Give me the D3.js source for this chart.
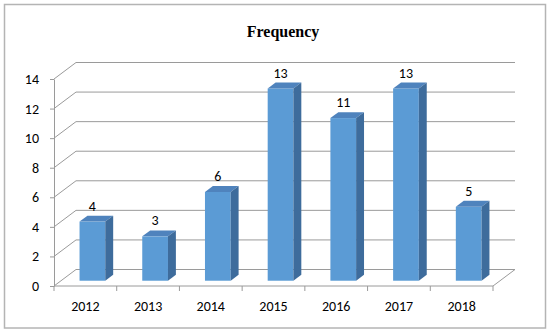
<!DOCTYPE html>
<html>
<head>
<meta charset="utf-8">
<script src="https://cdn.jsdelivr.net/npm/d3@7"></script>
<style>
  body { margin: 0; background: #fff; }
  text { font-family: Carlito, Lato, sans-serif; }
</style>
</head>
<body>
<div id="chart"></div>
<script>
// chart data
var years = ["2012", "2013", "2014", "2015", "2016", "2017", "2018"];
var frequency = [4, 3, 6, 13, 11, 13, 5];
var yTicks = [0, 2, 4, 6, 8, 10, 12, 14];

var W = 550, H = 333;
// 3d depth offset of the plot box
var DX = 22, DY = -16.5;
// bar depth position as fractions of the box depth
var fa = 0.32, fb = 0.68;
var fontSize = "14px";

var svg = d3.select("#chart").append("svg")
    .attr("width", W)
    .attr("height", H);

// outer frame
svg.append("rect")
    .attr("x", 4.5).attr("y", 4.5)
    .attr("width", 541).attr("height", 323.5)
    .style("fill", "#fff")
    .style("stroke", "#b4b4b4")
    .style("stroke-width", 1.5);

// title
svg.append("text")
    .attr("x", 283).attr("y", 37)
    .attr("text-anchor", "middle")
    .style("font-family", "'Liberation Serif', 'DejaVu Serif', serif")
    .style("font-weight", "bold")
    .style("font-size", "16px")
    .text("Frequency");

// scales
var x = d3.scaleBand()
    .domain(years)
    .range([54, 493])
    .paddingInner(0.59)
    .paddingOuter(0.295);
var xEdge = d3.scaleBand()
    .domain(years)
    .range([54, 493]);
var y = d3.scaleLinear()
    .domain([0, 14])
    .range([286, 79]);

var x0 = xEdge.range()[0], x1 = xEdge.range()[1];
var gridColor = "#9a9a9a";

// left wall diagonals and back wall gridlines
var grid = svg.append("g");
yTicks.forEach(function(v) {
  grid.append("path")
      .attr("d", "M" + x0 + "," + y(v) + "L" + (x0 + DX) + "," + (y(v) + DY) +
                 "L" + (x1 + DX) + "," + (y(v) + DY))
      .style("fill", "none")
      .style("stroke", gridColor)
      .style("stroke-width", 1);
});
// floor right edge
grid.append("line")
    .attr("x1", x1).attr("y1", y(0))
    .attr("x2", x1 + DX).attr("y2", y(0) + DY)
    .style("stroke", gridColor);

// bars
var bars = svg.selectAll(".bar")
    .data(frequency)
    .enter().append("g")
    .attr("class", "bar");

function fx(d, i) { return x(years[i]) + fa * DX; }
var bw = x.bandwidth();
var ddx = (fb - fa) * DX, ddy = (fb - fa) * DY;

bars.append("rect")
    .attr("x", fx)
    .attr("y", function(d) { return y(d) + fa * DY; })
    .attr("width", bw)
    .attr("height", function(d) { return y(0) - y(d); })
    .style("fill", "#5b9bd5");

bars.append("path")
    .attr("d", function(d, i) {
      var l = fx(d, i), t = y(d) + fa * DY;
      return "M" + l + "," + t + "L" + (l + bw) + "," + t +
             "L" + (l + bw + ddx) + "," + (t + ddy) + "L" + (l + ddx) + "," + (t + ddy) + "Z";
    })
    .style("fill", "#4f83bd");

bars.append("path")
    .attr("d", function(d, i) {
      var r = fx(d, i) + bw, t = y(d) + fa * DY, b = y(0) + fa * DY;
      return "M" + r + "," + t + "L" + r + "," + b +
             "L" + (r + ddx) + "," + (b + ddy) + "L" + (r + ddx) + "," + (t + ddy) + "Z";
    })
    .style("fill", "#3e6c9c");

// value labels
bars.append("text")
    .attr("x", function(d, i) { return fx(d, i) + bw / 2; })
    .attr("y", function(d) { return y(d) + fb * DY - 5; })
    .attr("text-anchor", "middle")
    .style("font-size", fontSize)
    .style("fill", "#000")
    .text(function(d) { return d; });

// y axis
var yAxis = svg.append("g")
    .attr("transform", "translate(" + x0 + ",0)")
    .call(d3.axisLeft(y).tickValues(yTicks).tickSize(4).tickSizeOuter(0).tickPadding(11));
yAxis.selectAll("line, path").style("stroke", gridColor);
yAxis.selectAll("text")
    .style("font-family", "Carlito, Lato, sans-serif")
    .style("font-size", fontSize)
    .style("fill", "#000");

// x axis with ticks at category edges
var xAxis = svg.append("g")
    .attr("transform", "translate(0," + y(0) + ")");
xAxis.append("line")
    .attr("x1", x0).attr("x2", x1)
    .style("stroke", gridColor);
xAxis.selectAll(".tick")
    .data(years.map(function(d) { return xEdge(d); }).concat([x1]))
    .enter().append("line")
    .attr("x1", function(d) { return d; }).attr("x2", function(d) { return d; })
    .attr("y1", 0).attr("y2", 5)
    .style("stroke", gridColor);
xAxis.selectAll(".lbl")
    .data(years)
    .enter().append("text")
    .attr("x", function(d) { return xEdge(d) + xEdge.bandwidth() / 2; })
    .attr("y", 24.5)
    .attr("text-anchor", "middle")
    .style("font-size", fontSize)
    .style("fill", "#000")
    .text(function(d) { return d; });
</script>
</body>
</html>
